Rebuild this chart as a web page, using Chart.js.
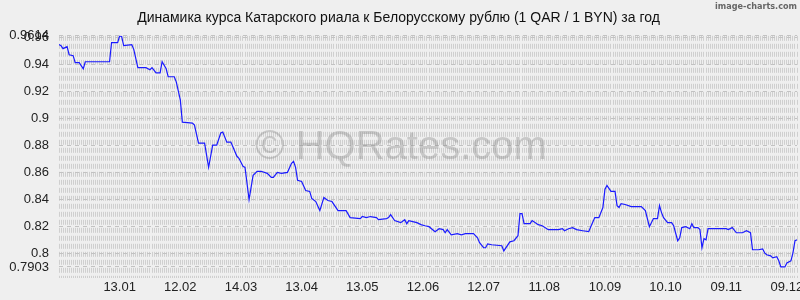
<!DOCTYPE html>
<html>
<head>
<meta charset="utf-8">
<script src="https://cdn.jsdelivr.net/npm/chart.js@4"></script>
<style>
  html, body { margin: 0; padding: 0; background: #efefef; }
  #wrap { width: 800px; height: 300px; overflow: hidden; position: relative; }
  #box { width: 830px; height: 300px; }
</style>
</head>
<body>
<div id="wrap"><div id="box"><canvas id="rateChart"></canvas></div></div>
<script>
// day offsets from the first day of the period (14.12 of previous year)
const days = [0,1,2,4,5,7,8,10,12,13,25,26,29,30,31,32,36,37,39,43,45,46,48,50,51,53,54,57,58,60,
  61,66,67,69,72,74,76,78,80,81,83,85,88,89,91,92,94,96,98,100,103,105,106,108,110,113,115,116,117,118,
  120,122,124,125,127,129,131,133,135,138,142,144,149,150,152,154,157,158,162,163,164,166,169,171,172,173,177,179,181,
  183,186,188,190,191,192,194,197,199,201,205,207,208,210,211,212,214,219,220,223,225,227,228,229,230,233,234,237,
  239,242,247,249,250,252,254,256,259,262,263,265,267,269,270,271,273,275,276,277,278,280,283,288,290,292,294,296,297,298,299,
  301,303,304,306,307,308,310,312,313,314,316,317,318,319,320,321,330,331,333,335,338,340,342,343,346,348,349,350,352,353,355,356,357,359,360,362,363,364,365];
const rates = [0.9549,0.9541,0.9519,0.9534,0.9474,0.9467,0.9415,0.9415,0.9370,0.9422,0.9422,0.9564,0.9564,0.9614,0.9608,0.9541,0.9549,0.9512,0.9378,0.9378,0.9363,0.9378,0.9340,0.9340,0.9422,0.9370,0.9311,0.9311,0.9273,0.9139,
  0.8975,0.8968,0.8953,0.8819,0.8819,0.8640,0.8804,0.8804,0.8894,0.8901,0.8827,0.8827,0.8722,0.8707,0.8648,0.8640,0.8402,0.8581,0.8611,0.8611,0.8596,0.8566,0.8566,0.8603,0.8596,0.8603,0.8670,0.8685,0.8640,0.8544,
  0.8536,0.8469,0.8462,0.8410,0.8387,0.8320,0.8417,0.8395,0.8387,0.8320,0.8320,0.8268,0.8261,0.8276,0.8268,0.8276,0.8268,0.8253,0.8261,0.8268,0.8290,0.8246,0.8231,0.8253,0.8223,0.8246,0.8231,0.8216,0.8208,
  0.8201,0.8164,0.8186,0.8179,0.8156,0.8179,0.8141,0.8149,0.8141,0.8149,0.8149,0.8119,0.8082,0.8045,0.8045,0.8074,0.8067,0.8060,0.8022,0.8089,0.8097,0.8134,0.8298,0.8298,0.8223,0.8223,0.8246,0.8216,
  0.8208,0.8179,0.8179,0.8186,0.8171,0.8186,0.8194,0.8179,0.8171,0.8164,0.8201,0.8268,0.8268,0.8343,0.8477,0.8506,0.8462,0.8462,0.8357,0.8343,0.8372,0.8365,0.8350,0.8350,0.8320,0.8201,0.8261,0.8261,0.8357,0.8305,0.8268,
  0.8231,0.8231,0.8208,0.8097,0.8119,0.8194,0.8201,0.8186,0.8223,0.8194,0.8194,0.8179,0.8045,0.8112,0.8104,0.8186,0.8186,0.8179,0.8194,0.8156,0.8156,0.8171,0.8156,0.8030,0.8030,0.8037,0.8007,0.7993,0.7985,0.7970,0.7978,0.7948,0.7903,0.7903,0.7933,0.7948,0.8007,0.8097,0.8104];

const monthDays = [30, 60, 90, 120, 150, 180, 210, 240, 270, 300, 330, 360];
const monthLabels = ['13.01', '12.02', '14.03', '13.04', '13.05', '12.06', '12.07', '11.08', '10.09', '10.10', '09.11', '09.12'];
const yTickValues = [0.7903, 0.8, 0.82, 0.84, 0.86, 0.88, 0.9, 0.92, 0.94, 0.96, 0.9614];

const fontFamily = '"Liberation Sans", Arial, sans-serif';

// watermarks
const marks = {
  id: 'marks',
  beforeDatasetsDraw(chart) {
    const ctx = chart.ctx;
    ctx.save();
    ctx.font = '40px ' + fontFamily;
    ctx.fillStyle = 'rgba(130,130,130,0.35)';
    ctx.textAlign = 'center';
    ctx.textBaseline = 'middle';
    ctx.fillText('\u00A9 HQRates.com', 401, 148);
    ctx.restore();
  },
  afterDraw(chart) {
    const ctx = chart.ctx;
    ctx.save();
    ctx.font = 'bold 9px "DejaVu Sans Condensed", "DejaVu Sans", sans-serif';
    ctx.fillStyle = '#666';
    ctx.textAlign = 'right';
    ctx.textBaseline = 'middle';
    ctx.fillText('image-charts.com', 797, 7);
    ctx.restore();
  }
};

new Chart(document.getElementById('rateChart'), {
  type: 'line',
  data: {
    datasets: [{
      data: days.map((d, i) => ({ x: d, y: rates[i] })),
      borderColor: '#1a1aff',
      borderWidth: 1.2,
      pointRadius: 0,
      tension: 0,
      fill: false,
      xAxisID: 'x',
      yAxisID: 'y'
    }]
  },
  options: {
    responsive: true,
    maintainAspectRatio: false,
    animation: false,
    devicePixelRatio: 1,
    layout: { padding: { top: 0, left: 0, right: 33, bottom: 5 } },
    plugins: {
      legend: { display: false },
      tooltip: { enabled: false },
      title: {
        display: true,
        text: 'Динамика курса Катарского риала к Белорусскому рублю (1 QAR / 1 BYN) за год',
        color: '#111',
        font: { family: fontFamily, size: 14, weight: 'normal' },
        padding: { top: 10, bottom: 9 }
      }
    },
    scales: {
      x: {
        type: 'linear',
        position: 'bottom',
        min: 0,
        max: 365,
        afterBuildTicks: axis => { axis.ticks = monthDays.map(v => ({ value: v })); },
        afterFit: axis => { axis.height = 17; },
        ticks: {
          autoSkip: false,
          maxRotation: 0,
          padding: -6,
          color: '#222',
          font: { family: fontFamily, size: 13 },
          callback: v => monthLabels[monthDays.indexOf(v)]
        },
        grid: { display: false },
        border: { display: false }
      },
      xg: {
        type: 'linear',
        position: 'bottom',
        min: 0,
        max: 365,
        afterFit: axis => { axis.height = 0; },
        ticks: { display: false, stepSize: 1 },
        grid: { color: '#cfcfcf', drawTicks: false },
        border: { display: false, dash: [5, 3] }
      },
      y: {
        min: 0.7821,
        max: 0.9614,
        afterBuildTicks: axis => { axis.ticks = yTickValues.map(v => ({ value: v })); },
        afterFit: axis => { axis.width = 59; },
        ticks: {
          autoSkip: false,
          padding: 10,
          color: '#222',
          font: { family: fontFamily, size: 13 },
          callback: v => String(v)
        },
        grid: { color: '#c2c2c2', drawTicks: false },
        border: { display: false, dash: [4, 4] }
      }
    }
  },
  plugins: [marks]
});
</script>
</body>
</html>
